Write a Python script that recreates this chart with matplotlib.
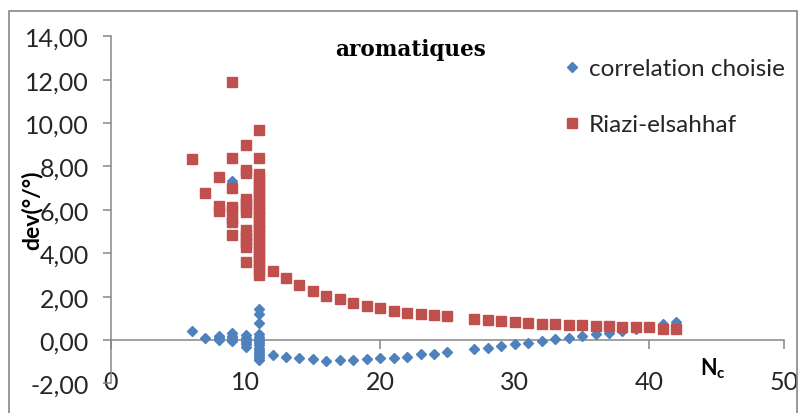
import matplotlib
matplotlib.use("Agg")
import matplotlib.pyplot as plt
from matplotlib.ticker import FuncFormatter
from matplotlib.patches import Rectangle

# Data
corr_x = [6, 7, 8, 8, 8,
          9, 9, 9, 9, 9, 9,
          10, 10, 10, 10, 10, 10,
          11, 11, 11, 11, 11, 11, 11, 11, 11, 11, 11, 11, 11, 11, 11, 11,
          12, 13, 14, 15, 16, 17, 18, 19, 20, 21, 22, 23, 24, 25,
          27, 28, 29, 30, 31, 32, 33, 34, 35, 36, 37, 38, 39, 40, 41, 42]
corr_y = [0.43, 0.08, 0.2, 0.1, 0.0,
          7.35, 0.32, 0.2, 0.1, 0.0, -0.05,
          0.25, 0.1, 0.0, -0.1, -0.2, -0.3,
          1.43, 1.2, 0.77, 0.3, 0.15, 0.05, -0.05, -0.15, -0.25, -0.35, -0.45,
          -0.55, -0.65, -0.75, -0.85, -0.93,
          -0.68, -0.78, -0.84, -0.89, -0.95, -0.9, -0.93, -0.89, -0.84, -0.84,
          -0.8, -0.66, -0.63, -0.54,
          -0.43, -0.37, -0.28, -0.2, -0.12, -0.03, 0.04, 0.1, 0.19, 0.27, 0.34,
          0.42, 0.52, 0.62, 0.72, 0.83]

riazi_x = [6, 7, 8, 8, 8,
           9, 9, 9, 9, 9, 9, 9, 9,
           10, 10, 10, 10, 10, 10, 10, 10, 10, 10, 10, 10, 10,
           11, 11, 11, 11, 11, 11, 11, 11, 11, 11, 11, 11, 11,
           11, 11, 11, 11, 11, 11, 11, 11, 11, 11, 11, 11, 11,
           12, 13, 14, 15, 16, 17, 18, 19, 20, 21, 22, 23, 24, 25,
           27, 28, 29, 30, 31, 32, 33, 34, 35, 36, 37, 38, 39, 40, 41, 42]
riazi_y = [8.35, 6.77, 7.5, 6.2, 5.95,
           11.9, 8.38, 6.99, 6.15, 6.0, 5.6, 5.45, 4.83,
           9.0, 7.85, 7.7, 6.5, 6.3, 6.1, 5.9, 5.05, 4.85, 4.65, 4.45, 4.3, 3.6,
           9.7, 8.4, 7.65, 7.45, 7.25, 7.05, 6.85, 6.65, 6.45, 6.25, 6.05, 5.85, 5.65,
           5.45, 5.25, 5.05, 4.85, 4.65, 4.45, 4.25, 4.05, 3.85, 3.65, 3.45, 3.25, 3.0,
           3.2, 2.84, 2.53, 2.27, 2.04, 1.88, 1.7, 1.56, 1.47, 1.34, 1.23, 1.22, 1.15, 1.1,
           0.96, 0.9, 0.86, 0.83, 0.8, 0.75, 0.73, 0.7, 0.68, 0.65, 0.63, 0.62, 0.58,
           0.58, 0.5, 0.5]

x_ticks = [0, 10, 20, 30, 40, 50]
y_ticks = [-2, 0, 2, 4, 6, 8, 10, 12, 14]

blue = "#4F81BD"
red = "#C0504D"
grey = "#868686"

plt.rcParams['font.family'] = ['Lato', 'DejaVu Sans']

fig = plt.figure(figsize=(8.03, 4.14), dpi=100)
ax = fig.add_axes([111 / 803, (414 - 384.4) / 414, 673 / 803, 347.1 / 414])

# outer chart frame
fig.patches.append(Rectangle((9 / 803, -0.05), 788 / 803, (414 - 12) / 414 + 0.05,
                             transform=fig.transFigure, fill=False,
                             edgecolor=grey, linewidth=1.2))

ax.plot(corr_x, corr_y, 'D', color=blue, ms=4.8, mec=blue, label="correlation choisie", zorder=3)
ax.plot(riazi_x, riazi_y, 's', color=red, ms=7.2, mec=red, label="Riazi-elsahhaf", zorder=4)

ax.set_xlim(0, 50)
ax.set_ylim(-2, 14)
ax.set_xticks(x_ticks)
ax.set_yticks(y_ticks)
ax.yaxis.set_major_formatter(FuncFormatter(lambda v, p: f"{v:.2f}".replace('.', ',')))

for s in ['top', 'right']:
    ax.spines[s].set_visible(False)
ax.spines['bottom'].set_position(('data', 0))
for s in ['left', 'bottom']:
    ax.spines[s].set_color(grey)
    ax.spines[s].set_linewidth(1.1)

ax.tick_params(axis='y', direction='out', length=6, width=1.1, color=grey,
               labelsize=18, pad=10, labelcolor='#262626')
ax.tick_params(axis='x', direction='out', length=6.5, width=1.1, color=grey,
               labelsize=18, pad=15, labelcolor='#262626')

fig.text(410 / 803, 1 - 50 / 414, "aromatiques", family='DejaVu Serif',
         fontweight='bold', fontsize=15.5, ha='center', va='center')

fig.text(32 / 803, 1 - 210 / 414, "dev(°/°)", rotation=90, fontweight='bold',
         fontsize=16.5, ha='center', va='center')
fig.text(713 / 803, 1 - 369 / 414, r"N$_{\mathregular{c}}$", fontweight='bold',
         fontsize=15.5, ha='center', va='center')

ax.legend(loc='upper left', bbox_to_anchor=(566 / 803, 1 - 59 / 414),
          bbox_transform=fig.transFigure, frameon=False, fontsize=17.5,
          handlelength=0.5, handletextpad=0.45, labelspacing=1.45,
          borderpad=0, borderaxespad=0, labelcolor='#262626')

fig.savefig("out.png", dpi=100)
